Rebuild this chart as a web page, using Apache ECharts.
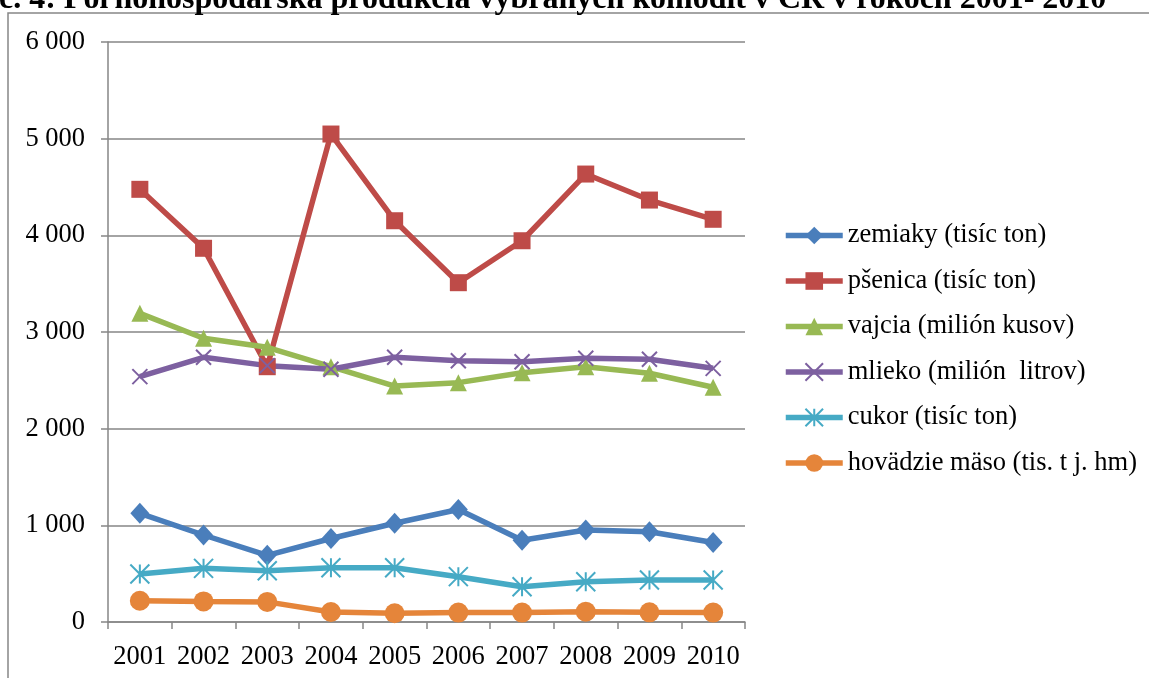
<!DOCTYPE html>
<html><head><meta charset="utf-8">
<script src="https://cdn.jsdelivr.net/npm/echarts@6/dist/echarts.min.js"></script>
<style>html,body{margin:0;padding:0;background:#fff}#c{width:1149px;height:678px}</style>
</head><body><div id="c"></div>
<script>
const titleText = 'č. 4: Poľnohospodárska produkcia vybraných komodít v ČR v rokoch 2001- 2010';
const years = ['2001', '2002', '2003', '2004', '2005', '2006', '2007', '2008', '2009', '2010'];
const seriesNames = ['zemiaky (tisíc ton)', 'pšenica (tisíc ton)', 'vajcia (milión kusov)', 'mlieko (milión  litrov)', 'cukor (tisíc ton)', 'hovädzie mäso (tis. t j. hm)'];
const zemiaky  = [1124, 900, 690, 864, 1022, 1164, 846, 952, 934, 822];
const psenica  = [4476, 3866, 2641, 5048, 4151, 3510, 3944, 4634, 4365, 4166];
const vajcia   = [3193, 2935, 2842, 2641, 2441, 2476, 2579, 2641, 2573, 2428];
const mlieko   = [2538, 2738, 2652, 2614, 2738, 2703, 2693, 2728, 2718, 2624];
const cukor    = [497, 555, 531, 562, 562, 469, 365, 417, 434, 434];
const hovadzie = [220, 213, 208, 103, 90, 97, 97, 107, 100, 97];
const yMin = 0, yMax = 6000, yStep = 1000;

const colors = ['#4A7EBB', '#BE4B48', '#98B954', '#7D60A0', '#46AAC5', '#E5853A'];
const FONT = 'Liberation Serif';
const FS = 26.5;
const xPath = 'path://M0,0L10,10M10,0L0,10';
const starPath = 'path://M5,0L5,10M0,0L10,10M10,0L0,10';

function fmt(v) { return String(v).replace(/\B(?=(\d{3})+(?!\d))/g, ' '); }

const dataSets = [zemiaky, psenica, vajcia, mlieko, cukor, hovadzie];
const symbols = ['diamond', 'rect', 'triangle', xPath, starPath, 'circle'];
const symSizes = [[19, 21], 17, [17, 17], 15, 19, 20];

const series = dataSets.map((d, i) => {
  const stroked = i === 3 || i === 4;
  return {
    name: seriesNames[i],
    type: 'line',
    data: d,
    symbol: symbols[i],
    symbolSize: symSizes[i],
    showAllSymbol: true,
    lineStyle: { color: colors[i], width: 5.5 },
    itemStyle: stroked ? { color: colors[i], borderColor: colors[i], borderWidth: 2 } : { color: colors[i], borderWidth: 0 },
    emphasis: { disabled: true },
    animation: false
  };
});

const chart = echarts.init(document.getElementById('c'), null, { renderer: 'canvas' });
chart.setOption({
  animation: false,
  color: colors,
  textStyle: { fontFamily: FONT },
  grid: { left: 108, right: 404, top: 42, bottom: 56, containLabel: false },
  graphic: [
    { type: 'rect', z: -10, shape: { x: 8, y: 13, width: 1300, height: 900 }, style: { fill: 'none', stroke: '#868686', lineWidth: 1.5 } },
    { type: 'text', x: -1, y: 0, style: { text: titleText, font: 'bold 32px "Liberation Serif"', fill: '#000', textAlign: 'left', textVerticalAlign: 'middle' } }
  ],
  legend: {
    orient: 'vertical',
    left: 778,
    top: 217,
    padding: 5,
    itemWidth: 57,
    itemHeight: 22,
    itemGap: 18.5,
    data: seriesNames,
    lineStyle: { width: 5.5 },
    textStyle: { fontFamily: FONT, fontSize: FS, color: '#000', lineHeight: 26.5 }
  },
  xAxis: {
    type: 'category',
    data: years,
    boundaryGap: true,
    axisLine: { lineStyle: { color: '#868686', width: 1.5 } },
    axisTick: { show: true, interval: 0, length: 7, lineStyle: { color: '#868686', width: 1.5 } },
    axisLabel: { interval: 0, margin: 22, color: '#000', fontFamily: FONT, fontSize: FS },
    splitLine: { show: false }
  },
  yAxis: {
    type: 'value',
    min: yMin, max: yMax, interval: yStep,
    axisLine: { show: true, lineStyle: { color: '#868686', width: 1.5 } },
    axisTick: { show: true, length: 7, lineStyle: { color: '#868686', width: 1.5 } },
    axisLabel: { margin: 23, color: '#000', fontFamily: FONT, fontSize: FS, formatter: fmt },
    splitLine: { show: true, lineStyle: { color: '#868686', width: 1.5 } }
  },
  series: series
});
</script>
</body></html>
